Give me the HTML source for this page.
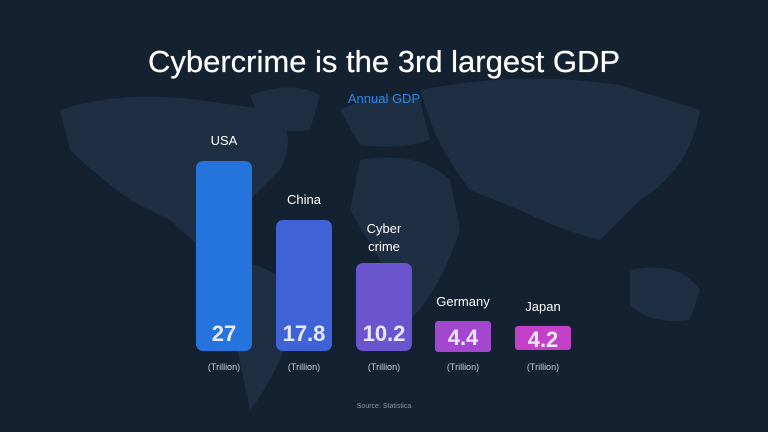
<!DOCTYPE html>
<html><head><style>
body{margin:0;width:768px;height:432px;background:#132130;overflow:hidden;position:relative;font-family:"Liberation Sans",sans-serif;}
.t{position:absolute;left:0;width:768px;text-align:center;color:#fff;}
.bar{position:absolute;border-radius:7px;}
.v{position:absolute;width:56px;text-align:center;color:#e6e9ff;font-weight:bold;font-size:22px;}
.l{position:absolute;width:80px;text-align:center;color:#fff;font-size:13px;}
.u{position:absolute;width:80px;text-align:center;color:#c9ced6;font-size:9px;top:362px;}
</style></head><body>
<svg width="768" height="432" style="position:absolute;left:0;top:0">
<g fill="#1e2f43">
<path d="M60 110 Q120 90 200 100 L270 110 Q300 130 280 170 L250 200 Q230 230 240 250 L220 260 Q190 240 170 220 L130 200 Q90 170 70 150 Z"/>
<path d="M250 95 Q290 80 320 95 L310 130 Q280 135 260 120 Z"/>
<path d="M230 260 Q280 265 300 300 L280 360 Q260 400 250 410 Q240 360 230 320 Z"/>
<path d="M340 110 Q380 90 420 100 L430 140 Q400 150 360 145 Z"/>
<path d="M360 160 Q420 150 450 180 L460 230 Q440 290 410 320 Q390 300 380 260 L350 210 Z"/>
<path d="M420 90 Q520 70 620 85 L700 110 Q690 170 640 200 L600 240 Q560 230 520 210 L470 190 Q440 150 430 120 Z"/>
<path d="M630 270 Q680 260 700 290 L690 320 Q650 325 630 305 Z"/>
</g>
</svg>
<div class="t" style="top:44px;font-size:31px;text-shadow:0 0 0.6px #fff;">Cybercrime is the 3rd largest GDP</div>
<div class="t" style="top:91px;font-size:13px;color:#2f86e8;">Annual GDP</div>
<div class="bar" style="left:196px;top:161px;width:56px;height:190px;background:#2573dc"></div>
<div class="bar" style="left:276px;top:220px;width:56px;height:131px;background:#3f63d6"></div>
<div class="bar" style="left:356px;top:263px;width:56px;height:88px;background:#6a55cf"></div>
<div class="bar" style="left:435px;top:321px;width:56px;height:31px;background:#a347cf;border-radius:3px"></div>
<div class="bar" style="left:515px;top:326px;width:56px;height:24px;background:#c440c9;border-radius:3px"></div>
<div class="v" style="left:196px;top:321px">27</div>
<div class="v" style="left:276px;top:321px">17.8</div>
<div class="v" style="left:356px;top:321px">10.2</div>
<div class="v" style="left:435px;top:325px">4.4</div>
<div class="v" style="left:515px;top:327px">4.2</div>
<div class="l" style="left:184px;top:133px">USA</div>
<div class="l" style="left:264px;top:192px">China</div>
<div class="l" style="left:344px;top:221px">Cyber</div>
<div class="l" style="left:344px;top:239px">crime</div>
<div class="l" style="left:423px;top:294px">Germany</div>
<div class="l" style="left:503px;top:299px">Japan</div>
<div class="u" style="left:184px">(Trillion)</div>
<div class="u" style="left:264px">(Trillion)</div>
<div class="u" style="left:344px">(Trillion)</div>
<div class="u" style="left:423px">(Trillion)</div>
<div class="u" style="left:503px">(Trillion)</div>
<div class="t" style="top:403px;font-size:7px;color:#8a94a2;">Source: Statistica</div>
</body></html>
